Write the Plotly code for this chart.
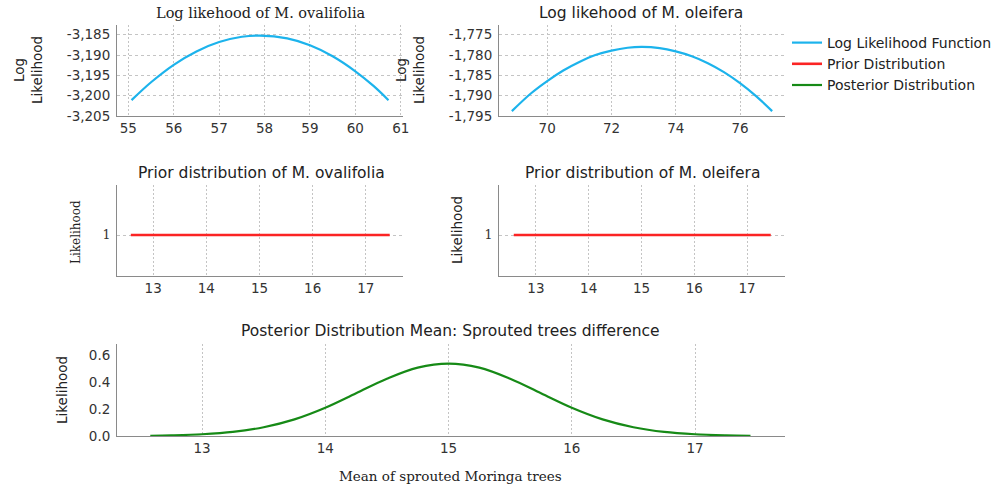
import plotly.graph_objects as go

# ---------------- data ----------------
oval_x = [55.07, 55.5, 56.0, 56.5, 57.0, 57.5, 57.9, 58.5, 59.0, 59.5, 60.0, 60.4, 60.73]
oval_ll = [-3201.1, -3196.7, -3192.4, -3189.1, -3186.8, -3185.5, -3185.2,
           -3185.9, -3187.6, -3190.3, -3194.0, -3197.6, -3201.1]

olei_x = [68.9, 69.5, 70.0, 70.5, 71.0, 71.5, 72.0, 72.5, 72.95, 73.5, 74.0,
          74.5, 75.0, 75.5, 76.0, 76.5, 77.0]
olei_ll = [-1793.8, -1789.4, -1786.4, -1783.8, -1781.7, -1780.0, -1778.9, -1778.2,
           -1778.0, -1778.3, -1779.1, -1780.3, -1782.0, -1784.2, -1786.9, -1790.1, -1793.8]

prior_x = [12.58, 17.45]
prior_y = [1, 1]

post_x = [12.58, 12.75, 13.0, 13.25, 13.5, 13.75, 14.0, 14.25, 14.5, 14.75, 15.0,
          15.25, 15.5, 15.75, 16.0, 16.25, 16.5, 16.75, 17.0, 17.25, 17.45]
post_y = [0.002, 0.005, 0.013, 0.030, 0.065, 0.123, 0.209, 0.316, 0.423, 0.505, 0.535,
          0.505, 0.423, 0.316, 0.209, 0.123, 0.065, 0.030, 0.013, 0.005, 0.002]

oval_yticks = [-3205, -3200, -3195, -3190, -3185]
oval_ytext = ["-3,205", "-3,200", "-3,195", "-3,190", "-3,185"]
oval_xticks = [55, 56, 57, 58, 59, 60, 61]
olei_yticks = [-1795, -1790, -1785, -1780, -1775]
olei_ytext = ["-1,795", "-1,790", "-1,785", "-1,780", "-1,775"]
olei_xticks = [70, 72, 74, 76]
prior_xticks = [13, 14, 15, 16, 17]
post_yticks = [0.0, 0.2, 0.4, 0.6]
post_ytext = ["0.0", "0.2", "0.4", "0.6"]

series_names = ["Log Likelihood Function", "Prior Distribution", "Posterior Distribution"]
titles = ["Log likehood of M. ovalifolia", "Log likehood of M. oleifera",
          "Prior distribution of M. ovalifolia", "Prior distribution of M. oleifera",
          "Posterior Distribution Mean: Sprouted trees difference"]

# ---------------- styles ----------------
BLUE = "#1cb3ec"
RED = "#fb2424"
GREEN = "#168a16"
SANS = "DejaVu Sans"
SERIF = "DejaVu Serif"
TXT = "#222222"
AX = "#8a8a8a"
GRID = "#c4c4c4"

W, H = 1008, 490

def fx(px):
    return px / W

def fy(py):
    return 1 - py / H

fig = go.Figure()

fig.add_trace(go.Scatter(x=oval_x, y=oval_ll, mode="lines", line=dict(color=BLUE, width=2.2, shape="spline"),
                         name=series_names[0], legendgroup="ll", xaxis="x", yaxis="y"))
fig.add_trace(go.Scatter(x=olei_x, y=olei_ll, mode="lines", line=dict(color=BLUE, width=2.2, shape="spline"),
                         name=series_names[0], legendgroup="ll", showlegend=False, xaxis="x2", yaxis="y2"))
fig.add_trace(go.Scatter(x=prior_x, y=prior_y, mode="lines", line=dict(color=RED, width=2.6),
                         name=series_names[1], legendgroup="pr", xaxis="x3", yaxis="y3"))
fig.add_trace(go.Scatter(x=prior_x, y=prior_y, mode="lines", line=dict(color=RED, width=2.6),
                         name=series_names[1], legendgroup="pr", showlegend=False, xaxis="x4", yaxis="y4"))
fig.add_trace(go.Scatter(x=post_x, y=post_y, mode="lines", line=dict(color=GREEN, width=2.2, shape="spline"),
                         name=series_names[2], legendgroup="po", xaxis="x5", yaxis="y5"))

tickfont = dict(family=SANS, size=13.5, color="#333333")

def xax(domain, rng, ticks, anchor):
    return dict(domain=domain, range=rng, tickvals=ticks, anchor=anchor, showline=True,
                linecolor=AX, linewidth=1, ticks="", zeroline=False, showgrid=True,
                gridcolor=GRID, griddash="2px,2px", gridwidth=1, tickfont=tickfont,
                fixedrange=True, automargin=False)

def yax(domain, rng, ticks, text, anchor, grid=True, font=None, dash="3px,3px"):
    return dict(domain=domain, range=rng, tickvals=ticks, ticktext=text, anchor=anchor,
                showline=True, linecolor=AX, linewidth=1, ticks="", zeroline=False,
                showgrid=grid, gridcolor=GRID, griddash=dash, gridwidth=1,
                tickfont=font or tickfont, ticklabelstandoff=3, fixedrange=True,
                automargin=False)

topy = [fy(116), fy(25)]
midy = [fy(276), fy(185)]
boty = [fy(436), fy(344)]
leftx = [fx(117), fx(403)]
rightx = [fx(499), fx(785)]
fullx = [fx(117), fx(785)]

serif_tick = dict(family=SERIF, size=12.5, color="#333333")

fig.update_layout(
    template="none",
    width=W, height=H, margin=dict(l=0, r=0, t=0, b=0, pad=0, autoexpand=False),
    paper_bgcolor="white", plot_bgcolor="white",
    xaxis=xax(leftx, [54.75, 61.05], oval_xticks, "y"),
    yaxis=yax(topy, [-3205, -3182.6], oval_yticks, oval_ytext, "x"),
    xaxis2=xax(rightx, [68.5, 77.4], olei_xticks, "y2"),
    yaxis2=yax(topy, [-1795, -1772.6], olei_yticks, olei_ytext, "x2"),
    xaxis3=xax(leftx, [12.32, 17.7], prior_xticks, "y3"),
    yaxis3=yax(midy, [0.55, 1.55], [1], ["1"], "x3", font=serif_tick),
    xaxis4=xax(rightx, [12.3, 17.72], prior_xticks, "y4"),
    yaxis4=yax(midy, [0.55, 1.55], [1], ["1"], "x4", font=serif_tick),
    xaxis5=xax(fullx, [12.31, 17.73], prior_xticks, "y5"),
    yaxis5=yax(boty, [0, 0.68], post_yticks, post_ytext, "x5", grid=False),
    showlegend=True,
    legend=dict(x=fx(787), y=fy(27), xanchor="left", yanchor="top", bgcolor="rgba(0,0,0,0)",
                font=dict(family=SANS, size=14, color=TXT), itemwidth=30, tracegroupgap=0,
                borderwidth=0),
)

def ann(text, x, y, font, size, angle=0):
    fig.add_annotation(text=text, x=fx(x), y=fy(y), xref="paper", yref="paper",
                       showarrow=False, xanchor="center", yanchor="middle", textangle=angle,
                       font=dict(family=font, size=size, color=TXT))

# panel titles
ann(titles[0], 261, 13, SERIF, 14.5)
ann(titles[1], 641, 13, SANS, 15.5)
ann(titles[2], 261, 173, SANS, 15.5)
ann(titles[3], 642, 173, SANS, 15.5)
ann(titles[4], 450, 331, SANS, 15.5)

# axis titles
ann("Log<br>Likelihood", 28, 70, SANS, 13.5, -90)
ann("Log<br>Likelihood", 410, 70, SANS, 13.5, -90)
ann("Likelihood", 76, 232, SERIF, 12, -90)
ann("Likelihood", 457, 230, SANS, 13.5, -90)
ann("Likelihood", 62, 390, SANS, 13.5, -90)
ann("Mean of sprouted Moringa trees", 450, 476, SERIF, 13.5)

fig.write_html("out.html")
